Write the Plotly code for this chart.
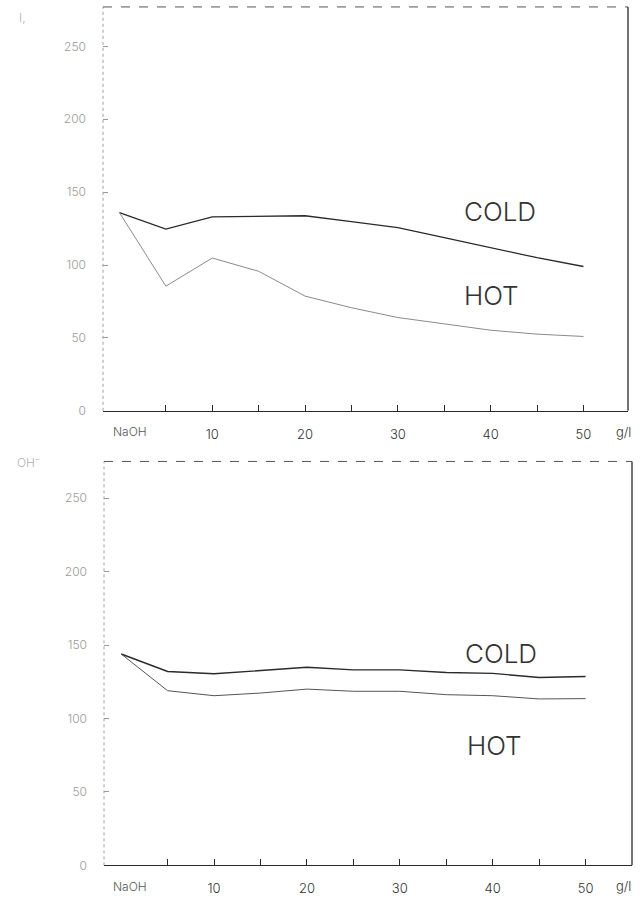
import plotly.graph_objects as go

# NaOH concentration (g/l); 0 is the plain NaOH reference point
conc = [0, 5, 10, 15, 20, 25, 30, 35, 40, 45, 50]

# upper panel
top_cold = [136, 124.7, 133, 133.5, 133.8, 129.7, 125.6, 118.8, 112, 105, 99]
top_hot = [136, 85.5, 104.8, 95.7, 78.7, 70.7, 64, 59.4, 55.3, 52.6, 51]

# lower panel
bot_cold = [143.9, 132, 130.4, 132.4, 134.9, 133.1, 133.1, 131.3, 130.7, 127.9, 128.6]
bot_hot = [143.9, 118.9, 115.5, 117.3, 120, 118.5, 118.5, 116.2, 115.5, 113.3, 113.5]

x_ticks = [5, 10, 15, 20, 25, 30, 35, 40, 45, 50]
x_tick_text = ["", "10", "", "20", "", "30", "", "40", "", "50"]
y_ticks = [0, 50, 100, 150, 200, 250]
y_tick_text = ["0", "50", "100", "150", "200", "250"]

W, H = 644, 916
DARK = "#2a2a2a"
HOT_C = "#8a8a8a"
GRID_GREY = "#9a9a9a"
LABEL_FONT = "Inter"

fig = go.Figure()

fig.add_trace(go.Scatter(x=conc, y=top_cold, mode="lines", line=dict(color=DARK, width=1.3),
                         xaxis="x", yaxis="y", showlegend=False))
fig.add_trace(go.Scatter(x=conc, y=top_hot, mode="lines", line=dict(color=HOT_C, width=1),
                         xaxis="x", yaxis="y", showlegend=False))
fig.add_trace(go.Scatter(x=conc, y=bot_cold, mode="lines", line=dict(color=DARK, width=1.4),
                         xaxis="x2", yaxis="y2", showlegend=False))
fig.add_trace(go.Scatter(x=conc, y=bot_hot, mode="lines", line=dict(color="#555555", width=1),
                         xaxis="x2", yaxis="y2", showlegend=False))


def xaxis_cfg(domain, rng):
    return dict(domain=domain, range=rng, showgrid=False, zeroline=False,
                showline=True, linecolor=DARK, linewidth=1.2,
                ticks="inside", ticklen=6, tickcolor=DARK, tickwidth=1,
                tickvals=x_ticks, ticktext=x_tick_text, ticklabelstandoff=11,
                tickfont=dict(family=LABEL_FONT, size=13, color="#333333", weight=300))


def yaxis_cfg(domain, rng, anchor):
    return dict(domain=domain, range=rng, showgrid=False, zeroline=False,
                showline=False, anchor=anchor,
                ticks="inside", ticklen=5, tickcolor=GRID_GREY, tickwidth=1,
                tickvals=y_ticks, ticktext=y_tick_text, ticklabelstandoff=16,
                tickfont=dict(family=LABEL_FONT, size=12, color="#9a9a9a", weight=300))


fig.update_layout(
    width=W, height=H,
    margin=dict(l=0, r=0, t=0, b=0),
    paper_bgcolor="white", plot_bgcolor="white",
    xaxis=xaxis_cfg([103 / W, 628 / W], [-1.77, 54.8]),
    yaxis=yaxis_cfg([1 - 414 / H, 1 - 7 / H], [0, 277], "x"),
    xaxis2=xaxis_cfg([104 / W, 632 / W], [-1.85, 55.0]),
    yaxis2=yaxis_cfg([1 - 872 / H, 1 - 465 / H], [0, 275], "x2"),
)
fig.update_layout(xaxis=dict(anchor="y"), xaxis2=dict(anchor="y2"))

# frame: dotted left edge, dashed top edge, solid right edge
for xr, yr in (("x", "y"), ("x2", "y2")):
    xd, yd = f"{xr} domain", f"{yr} domain"
    fig.add_shape(type="line", xref=xd, yref=yd, x0=0, x1=0, y0=0, y1=1,
                  line=dict(color="#a0a0a0", width=1, dash="dot"))
    fig.add_shape(type="line", xref=xd, yref=yd, x0=0, x1=1, y0=1, y1=1,
                  line=dict(color="#555555", width=1, dash="dash"))
    fig.add_shape(type="line", xref=xd, yref=yd, x0=1, x1=1, y0=0, y1=1,
                  line=dict(color=DARK, width=1.3))

curve_font = dict(family=LABEL_FONT, size=26, color="#333333", weight=300)
for text, xr, yr, xv, yv in (
    ("COLD", "x", "y", 36.9, 137.0),
    ("HOT", "x", "y", 36.9, 78.8),
    ("COLD", "x2", "y2", 36.8, 144.0),
    ("HOT", "x2", "y2", 37.0, 81.6),
):
    fig.add_annotation(text=text, xref=xr, yref=yr, x=xv, y=yv, xanchor="left",
                       yanchor="middle", showarrow=False, font=curve_font)

small = dict(family=LABEL_FONT, size=12, color="#555555", weight=300)
for yp in (1 - 435 / H, 1 - 893 / H):
    fig.add_annotation(text="NaOH", xref="paper", yref="paper", x=130 / W, y=yp,
                       xanchor="center", yanchor="middle", showarrow=False, font=small)
    fig.add_annotation(text="g/l", xref="paper", yref="paper", x=623 / W, y=yp,
                       xanchor="center", yanchor="middle", showarrow=False,
                       font=dict(family=LABEL_FONT, size=13, color="#333333", weight=300))

faint = dict(family=LABEL_FONT, size=12, color="#b0b0b0", weight=300)
fig.add_annotation(text="I,", xref="paper", yref="paper", x=22 / W, y=1 - 18 / H,
                   xanchor="center", yanchor="middle", showarrow=False, font=faint)
fig.add_annotation(text="OH⁻", xref="paper", yref="paper", x=28 / W, y=1 - 466 / H,
                   xanchor="center", yanchor="middle", showarrow=False, font=faint)

fig.write_html("out.html")
